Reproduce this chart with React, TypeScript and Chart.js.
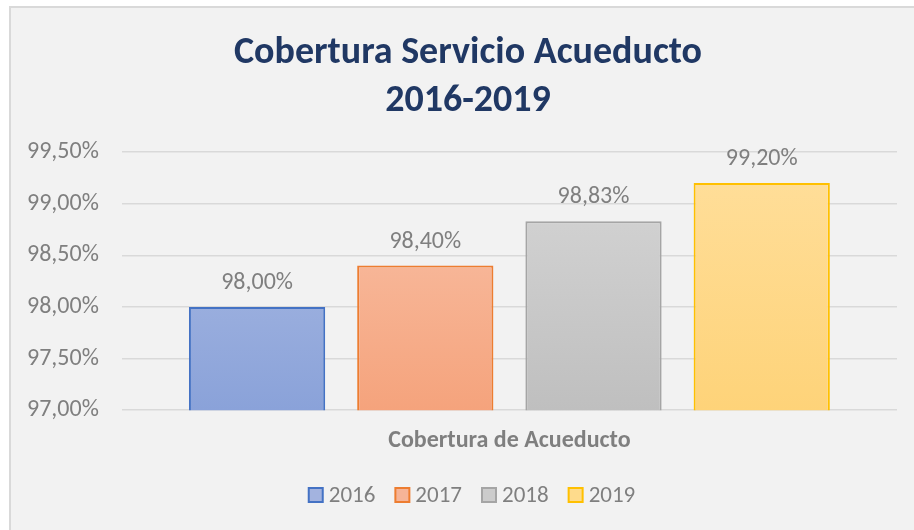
import React, { useEffect, useRef } from "react";
import { Chart, registerables } from "chart.js";

Chart.register(...registerables);

const categories = ["Cobertura de Acueducto"];
const seriesNames = ["2016", "2017", "2018", "2019"];
const seriesValues = [98.0, 98.4, 98.83, 99.2];
const yMin = 97;
const yMax = 99.5;
const yStep = 0.5;
const titleLines = ["Cobertura Servicio Acueducto", "2016-2019"];

const FONT = "Carlito, Calibri, 'Open Sans', sans-serif";
const borderColors = ["#4472c4", "#ed7d31", "#a5a5a5", "#ffc000"];
const gradTop = ["#b0bfe5", "#f9c4ac", "#d7d7d7", "#ffdf9c"];
const gradBottom = ["#8aa2d9", "#f5a37c", "#bfbfbf", "#fed379"];
const legendFill = ["#a3b3df", "#f6b497", "#cccccc", "#fedb8c"];

const fmt = (v: number) => v.toFixed(2).replace(".", ",") + "%";

const titlePlugin = {
  id: "customTitle",
  afterDraw(chart: any) {
    const ctx = chart.ctx;
    ctx.save();
    ctx.font = `bold 38px ${FONT}`;
    ctx.fillStyle = "#203864";
    ctx.textAlign = "center";
    ctx.textBaseline = "middle";
    titleLines.forEach((line, i) => {
      ctx.fillText(line, 468, 53 + i * 48);
    });
    ctx.restore();
  },
};

const labelPlugin = {
  id: "barLabels",
  afterDatasetsDraw(chart: any) {
    const ctx = chart.ctx;
    ctx.save();
    ctx.font = `24px ${FONT}`;
    ctx.fillStyle = "#7f7f7f";
    ctx.textAlign = "center";
    ctx.textBaseline = "alphabetic";
    chart.data.datasets.forEach((ds: any, i: number) => {
      const meta = chart.getDatasetMeta(i);
      meta.data.forEach((el: any, j: number) => {
        ctx.fillText(fmt(ds.data[j]), el.x, el.y - 18);
      });
    });
    ctx.restore();
  },
};

const legendPlugin = {
  id: "customLegend",
  afterDraw(chart: any) {
    const ctx = chart.ctx;
    ctx.save();
    ctx.font = `23px ${FONT}`;
    const box = 14;
    const gap = 6;
    const itemGap = 20;
    const items = chart.data.datasets.map((ds: any, i: number) => ({
      text: ds.label,
      w: box + gap + ctx.measureText(ds.label).width,
      i,
    }));
    const total = items.reduce((s: number, it: any) => s + it.w, 0) + itemGap * (items.length - 1);
    let x = 472 - total / 2;
    const cy = 495;
    items.forEach((it: any) => {
      ctx.fillStyle = legendFill[it.i];
      ctx.fillRect(x, cy - box / 2, box, box);
      ctx.strokeStyle = borderColors[it.i];
      ctx.lineWidth = 2;
      ctx.strokeRect(x, cy - box / 2, box, box);
      ctx.fillStyle = "#7f7f7f";
      ctx.textAlign = "left";
      ctx.textBaseline = "middle";
      ctx.fillText(it.text, x + box + gap, cy + 1);
      x += it.w + itemGap;
    });
    ctx.restore();
  },
};

export default function App() {
  const ref = useRef<HTMLCanvasElement | null>(null);
  useEffect(() => {
    if (!ref.current) return;
    const makeGrad = (i: number) => (c: any) => {
      const ca = c.chart.chartArea;
      if (!ca) return legendFill[i];
      const g = c.chart.ctx.createLinearGradient(0, ca.top, 0, ca.bottom);
      g.addColorStop(0, gradTop[i]);
      g.addColorStop(1, gradBottom[i]);
      return g;
    };
    const chart = new Chart(ref.current, {
      type: "bar",
      data: {
        labels: categories,
        datasets: seriesNames.map((name, i) => ({
          label: name,
          data: [seriesValues[i]],
          backgroundColor: makeGrad(i),
          borderColor: borderColors[i],
          borderWidth: 2,
          borderSkipped: false,
          categoryPercentage: 0.868,
          barPercentage: 0.81,
        })),
      },
      options: {
        animation: false,
        responsive: false,
        maintainAspectRatio: false,
        layout: { padding: { left: 4, right: 17, top: 152, bottom: 59 } },
        scales: {
          x: {
            grid: { display: false, drawTicks: false },
            border: { display: false },
            ticks: {
              color: "#7f7f7f",
              font: { family: FONT, size: 24, weight: "bold" },
              padding: 16,
            },
          },
          y: {
            min: yMin,
            max: yMax,
            ticks: {
              stepSize: yStep,
              color: "#7f7f7f",
              font: { family: FONT, size: 24 },
              padding: 23,
              callback: (v: any) => fmt(Number(v)),
            },
            grid: { color: "#d9d9d9", lineWidth: 1.5, drawTicks: false },
            border: { display: false },
          },
        },
        plugins: {
          title: { display: false },
          legend: { display: false },
          tooltip: { enabled: false },
        },
      },
      plugins: [titlePlugin, labelPlugin, legendPlugin],
    });
    return () => chart.destroy();
  }, []);

  return (
    <div style={{ position: "fixed", left: 0, top: 0, width: 914, height: 530, background: "#ffffff", overflow: "hidden" }}>
      <div
        style={{
          position: "absolute",
          left: 9,
          top: 6,
          right: 0,
          bottom: 0,
          background: "#f2f2f2",
          borderTop: "2px solid #d9d9d9",
          borderLeft: "2px solid #d9d9d9",
        }}
      />
      <canvas ref={ref} width={914} height={530} style={{ position: "absolute", left: 0, top: 0, width: 914, height: 530 }} />
    </div>
  );
}
